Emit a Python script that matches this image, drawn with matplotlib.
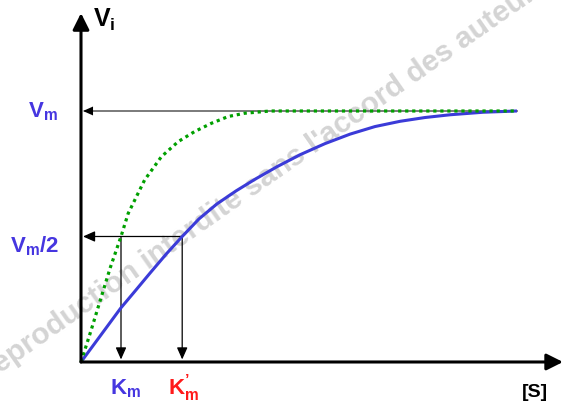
import matplotlib
matplotlib.use('Agg')
import matplotlib.pyplot as plt

plt.rcParams['font.family'] = ['Liberation Sans', 'DejaVu Sans']
plt.rcParams['font.weight'] = 'bold'
plt.rcParams['mathtext.fontset'] = 'custom'
plt.rcParams['mathtext.rm'] = 'Liberation Sans:bold'
plt.rcParams['mathtext.it'] = 'Liberation Sans:bold'
plt.rcParams['mathtext.bf'] = 'Liberation Sans:bold'

# Michaelis-Menten saturation curves (Vm = 1, [S] in units of Km)
VM = 1.0
KM = 1.0
KM_PRIME = 2.53
S_END = 10.9

# curve with the higher Km (solid blue)
blue_s = [0, 0.5, 0.99, 1.38, 1.73, 2.13, 2.53, 2.95, 3.4, 3.88, 4.35, 4.9, 5.48,
          6.1, 6.73, 7.35, 7.98, 8.6, 9.23, 10.05, 10.9]
blue_v = [0, 0.108, 0.214, 0.288, 0.355, 0.43, 0.50, 0.57, 0.63, 0.682, 0.728, 0.778, 0.826,
          0.87, 0.908, 0.938, 0.959, 0.974, 0.985, 0.995, 1.0]

# curve with the lower Km (dotted green)
green_s = [0, 0.25, 0.48, 0.73, 1.0, 1.18, 1.59, 2.01, 2.43, 2.84, 3.26, 3.68, 4.09, 4.73, 10.9]
green_v = [0, 0.125, 0.245, 0.375, 0.50, 0.592, 0.725, 0.818, 0.878, 0.918, 0.951, 0.978, 0.991, 1.0, 1.0]

BLUE = '#3b3bd8'
LABEL_BLUE = '#4636e0'
RED = '#ff1a1a'
GREEN = '#00a000'

fig = plt.figure(figsize=(5.64, 4.09), dpi=100)
ax = fig.add_axes([0, 0, 1, 1])
ax.set_xlim(-2.025, 12.075)
ax.set_ylim(-0.1873, 1.4422)
ax.axis('off')

def arrow(x0, y0, x1, y1, color='black', lw=1.0, hl=0.8, hw=0.35, scale=10, z=3):
    ax.annotate('', xy=(x1, y1), xytext=(x0, y0),
                arrowprops=dict(arrowstyle=f'-|>,head_length={hl},head_width={hw}',
                                mutation_scale=scale, lw=lw, color=color,
                                shrinkA=0, shrinkB=0),
                zorder=z, annotation_clip=False)

# watermark
ax.text(4.525, 0.725, "Reproduction interdite sans l'accord des auteurs",
        rotation=35, rotation_mode='anchor', ha='center', va='center',
        fontsize=21.5, color='#d4d4d4', fontweight='bold', zorder=0)

# guide arrows
ax.plot([S_END, 0.1], [VM, VM], color='#707070', lw=1.3, zorder=2)
arrow(0.3, VM, 0.05, VM, color='black', lw=0.01, hl=0.9, hw=0.4, scale=8)
arrow(KM_PRIME, VM / 2, 0.05, VM / 2, lw=0.9, hl=0.9, hw=0.4, scale=8)
arrow(KM, VM / 2, KM, 0.01, lw=0.9, hl=0.9, hw=0.4, scale=8)
arrow(KM_PRIME, VM / 2, KM_PRIME, 0.01, lw=0.9, hl=0.9, hw=0.4, scale=8)

# curves
ax.plot(blue_s, blue_v, color=BLUE, lw=2.2, solid_capstyle='butt',
        solid_joinstyle='round', zorder=4)
ax.plot(green_s, green_v, color=GREEN, lw=2.3, linestyle=(0, (1, 1.2)),
        dash_capstyle='butt', zorder=5)

# axes
arrow(0, 0, 0, 1.39, lw=2.2, hl=0.9, hw=0.45, scale=11, z=6)
arrow(0, 0, 12.05, 0, lw=2.2, hl=0.9, hw=0.45, scale=11, z=6)

# labels
ax.text(0.3, 1.335, r'V$_\mathrm{i}$', fontsize=18, color='black', ha='left', va='baseline')
ax.text(-0.575, 0.976, r'V$_\mathrm{m}$', fontsize=16, color=LABEL_BLUE, ha='right', va='baseline')
ax.text(-1.775, 0.438, r'V$_\mathrm{m}$/2', fontsize=16, color=LABEL_BLUE, ha='left', va='baseline')
ax.text(0.725, -0.131, r'K$_\mathrm{m}$', fontsize=16, color=LABEL_BLUE, ha='left', va='baseline')
ax.text(2.175, -0.131, r'K$^{’}_\mathrm{m}$', fontsize=16, color=RED, ha='left', va='baseline')
ax.text(11.025, -0.139, '[S]', fontsize=14, color='black', ha='left', va='baseline')

fig.savefig('out.png', dpi=100)
